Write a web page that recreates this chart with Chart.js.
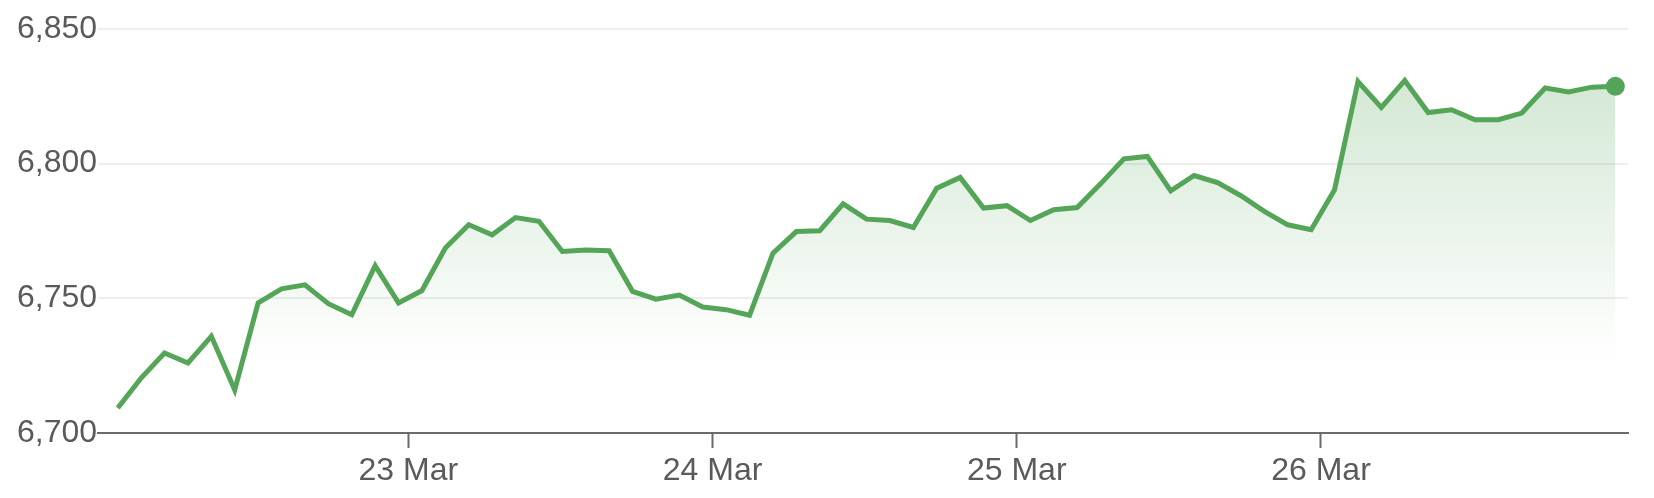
<!DOCTYPE html>
<html>
<head>
<meta charset="utf-8">
<script src="https://cdn.jsdelivr.net/npm/chart.js@4/dist/chart.umd.min.js"></script>
<style>
  html, body { margin: 0; padding: 0; background: #ffffff; }
  #wrap { width: 1654px; height: 498px; position: relative; }
</style>
</head>
<body>
<div id="wrap"><canvas id="c"></canvas></div>
<script>
// ---- data ----
const values = [
  6709.3, 6720.4, 6729.7, 6726.0, 6735.9, 6716.0, 6748.3, 6753.5, 6755.0, 6748.0,
  6743.9, 6762.1, 6748.3, 6752.9, 6768.7, 6777.3, 6773.6, 6780.0, 6778.6, 6767.4,
  6767.9, 6767.7, 6752.6, 6749.7, 6751.2, 6746.8, 6745.8, 6743.7, 6766.8, 6774.8,
  6775.1, 6785.1, 6779.4, 6778.9, 6776.3, 6790.9, 6794.9, 6783.5, 6784.4, 6778.9,
  6782.9, 6783.7, 6792.5, 6801.8, 6802.7, 6789.9, 6795.6, 6793.0, 6788.1, 6782.3,
  6777.3, 6775.5, 6790.3, 6830.5, 6820.9, 6830.9, 6819.0, 6820.0, 6816.3, 6816.3,
  6818.8, 6828.1, 6826.6, 6828.4, 6828.7
];
const dayTickIndex = [12.42, 25.42, 38.42, 51.42];
const dayTickLabels = ['23 Mar', '24 Mar', '25 Mar', '26 Mar'];
const yTicks = [6700, 6750, 6800, 6850];
const xRange = [-0.84, 64.54];

const points = values.map((v, i) => ({ x: i, y: v }));
const green = 'rgb(84,165,88)';
const textColor = '#5a5a5a';
const fontSpec = { family: '"Liberation Sans", Arial, Helvetica, sans-serif', size: 32 };

const ctx = document.getElementById('c').getContext('2d');
new Chart(ctx, {
  type: 'line',
  data: {
    datasets: [{
      data: points,
      borderColor: green,
      borderWidth: 5,
      tension: 0,
      fill: 'start',
      backgroundColor: (c) => {
        const area = c.chart.chartArea;
        if (!area) return 'rgba(84,165,88,0.2)';
        const g = c.chart.ctx.createLinearGradient(0, area.top, 0, area.top + (area.bottom - area.top) * 0.82);
        g.addColorStop(0, 'rgba(84,165,88,0.3)');
        g.addColorStop(1, 'rgba(84,165,88,0)');
        return g;
      },
      pointRadius: (c) => c.dataIndex === values.length - 1 ? 9.5 : 0,
      pointHoverRadius: (c) => c.dataIndex === values.length - 1 ? 9.5 : 0,
      pointBackgroundColor: green,
      pointBorderWidth: 0
    }]
  },
  options: {
    responsive: true,
    maintainAspectRatio: false,
    animation: false,
    layout: { padding: { left: 16, right: 26, top: 29, bottom: 0 } },
    plugins: { legend: { display: false }, tooltip: { enabled: false } },
    scales: {
      x: {
        type: 'linear',
        min: xRange[0],
        max: xRange[1],
        afterBuildTicks: (s) => { s.ticks = dayTickIndex.map(v => ({ value: v })); },
        afterFit: (s) => { s.height = 65; },
        ticks: {
          autoSkip: false,
          maxRotation: 0,
          padding: 4,
          color: textColor,
          font: fontSpec,
          callback: (v) => { const k = dayTickIndex.indexOf(v); return k >= 0 ? dayTickLabels[k] : ''; }
        },
        grid: { display: true, drawOnChartArea: false, drawTicks: true, tickLength: 15, tickWidth: 2, tickColor: '#6b6b6b' },
        border: { display: true, color: '#6b6b6b', width: 2 }
      },
      y: {
        min: 6700,
        max: 6850,
        afterBuildTicks: (s) => { s.ticks = yTicks.map(v => ({ value: v })); },
        ticks: {
          padding: 1,
          color: textColor,
          font: fontSpec,
          callback: (v) => v.toLocaleString('en-US')
        },
        grid: { color: '#eeeeee', lineWidth: 2, drawTicks: false },
        border: { display: false }
      }
    }
  }
});
</script>
</body>
</html>
